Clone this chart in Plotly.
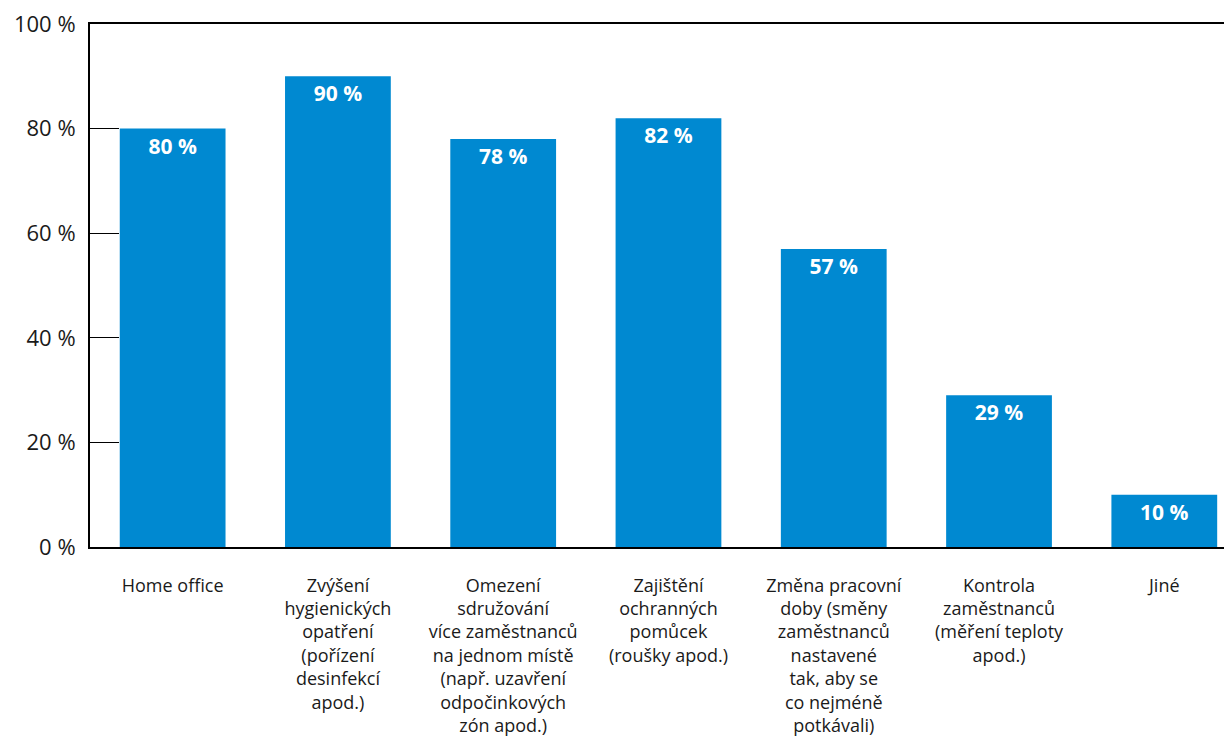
import plotly.graph_objects as go

categories = [
    "Home office",
    "Zvýšení<br>hygienických<br>opatření<br>(pořízení<br>desinfekcí<br>apod.)",
    "Omezení<br>sdružování<br>více zaměstnanců<br>na jednom místě<br>(např. uzavření<br>odpočinkových<br>zón apod.)",
    "Zajištění<br>ochranných<br>pomůcek<br>(roušky apod.)",
    "Změna pracovní<br>doby (směny<br>zaměstnanců<br>nastavené<br>tak, aby se<br>co nejméně<br>potkávali)",
    "Kontrola<br>zaměstnanců<br>(měření teploty<br>apod.)",
    "Jiné",
]
values = [80, 90, 78, 82, 57, 29, 10]
tick_vals = [0, 20, 40, 60, 80, 100]
tick_text = ["0 %", "20 %", "40 %", "60 %", "80 %", "100 %"]

FONT = "Open Sans"

fig = go.Figure(
    go.Bar(
        x=categories,
        y=values,
        marker=dict(color="#0089D1", line=dict(width=0)),
        text=[f"{v} %" for v in values],
        textposition="inside",
        insidetextanchor="end",
        textangle=0,
        textfont=dict(family=FONT, size=21, color="white", weight="bold"),
        cliponaxis=False,
    )
)

fig.update_layout(
    width=1232,
    height=747,
    margin=dict(l=82, r=0, t=16, b=208, autoexpand=False),
    paper_bgcolor="white",
    plot_bgcolor="white",
    bargap=0.36,
    showlegend=False,
    font=dict(family=FONT, color="#1a1a1a"),
)

fig.update_xaxes(
    range=[-0.5, 6.458],
    automargin=False,
    showline=True,
    linecolor="black",
    linewidth=2,
    mirror=True,
    showgrid=False,
    ticks="",
    ticklabelstandoff=21,
    ticklabeloverflow="allow",
    tickfont=dict(family=FONT, size=18, color="#1a1a1a"),
)

fig.update_yaxes(
    range=[0, 100],
    automargin=False,
    tickvals=tick_vals,
    ticktext=tick_text,
    showline=True,
    linecolor="black",
    linewidth=2,
    showgrid=False,
    zeroline=False,
    ticks="inside",
    ticklen=29,
    tickwidth=1,
    tickcolor="black",
    ticklabelstandoff=8,
    ticklabeloverflow="allow",
    tickfont=dict(family=FONT, size=22, color="#1a1a1a"),
)

fig.write_html("out.html")
